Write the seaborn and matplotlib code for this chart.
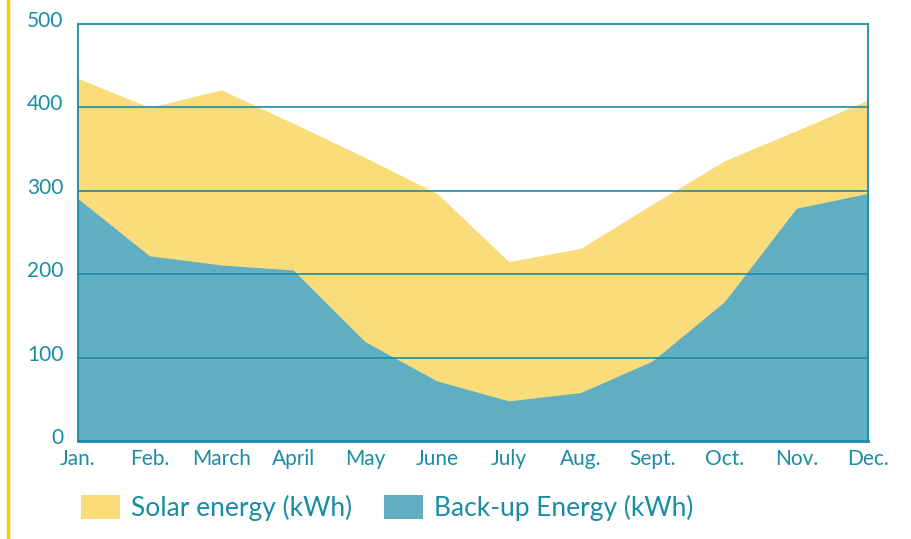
import matplotlib
matplotlib.use("Agg")
import matplotlib.pyplot as plt
import matplotlib.transforms as mtransforms
from matplotlib.lines import Line2D
from matplotlib.patches import Patch
import pandas as pd
import seaborn as sns

# Monthly energy data
months = ['Jan.', 'Feb.', 'March', 'April', 'May', 'June',
          'July', 'Aug.', 'Sept.', 'Oct.', 'Nov.', 'Dec.']
solar_kwh = [435, 400, 421, 381, 340, 297, 215, 231, 284, 336, 372, 409]
backup_kwh = [291, 222, 211, 205, 119, 72, 48, 58, 96, 167, 279, 297]
y_ticks = [0, 100, 200, 300, 400, 500]

TEAL = '#1A8CA5'
YELLOW_FILL = '#FADD7A'
BLUE_FILL = '#5FAEC2'
GOLD = '#F7CF00'

df = pd.DataFrame({'pos': range(len(months)), 'month': months,
                   'solar': solar_kwh, 'backup': backup_kwh})

sns.set_theme(style='white')
plt.rcParams['font.family'] = ['Lato', 'DejaVu Sans']

fig = plt.figure(figsize=(9.12, 5.39), dpi=100)
ax = fig.add_axes([0.085, 0.182, 0.867, 0.7735])

# Areas: solar underneath, back-up drawn over it
sns.lineplot(data=df, x='pos', y='solar', ax=ax, color=YELLOW_FILL, linewidth=0)
sns.lineplot(data=df, x='pos', y='backup', ax=ax, color=BLUE_FILL, linewidth=0)
ax.fill_between(df['pos'], 0, df['solar'], color=YELLOW_FILL, linewidth=0, zorder=1)
ax.fill_between(df['pos'], 0, df['backup'], color=BLUE_FILL, linewidth=0, zorder=2)

ax.set_xlim(0, len(months) - 1)
ax.set_ylim(0, 500)
ax.set_xticks(df['pos'])
ax.set_xticklabels(months)
ax.set_yticks(y_ticks)
ax.set_xlabel('')
ax.set_ylabel('')

# Gridlines on top of the areas
for v in y_ticks[1:-1]:
    ax.axhline(v, color=TEAL, linewidth=1.2, zorder=3)

for side, spine in ax.spines.items():
    spine.set_visible(True)
    spine.set_color(TEAL)
    spine.set_linewidth(1.3)
    spine.set_zorder(4)
ax.spines['bottom'].set_linewidth(2)

ax.tick_params(axis='both', length=0, colors=TEAL, labelsize=15)
ax.tick_params(axis='x', pad=6)
ax.tick_params(axis='y', pad=10)

# Nudge the y labels a little above their gridlines
shift = mtransforms.ScaledTranslation(0, 5 / 100, fig.dpi_scale_trans)
for lbl in ax.get_yticklabels():
    lbl.set_transform(lbl.get_transform() + shift)

handles = [Patch(facecolor=YELLOW_FILL, edgecolor='none', label='Solar energy (kWh)'),
           Patch(facecolor=BLUE_FILL, edgecolor='none', label='Back-up Energy (kWh)')]
leg = fig.legend(handles=handles, loc='lower left', bbox_to_anchor=(0.077, 0.014),
                 ncol=2, frameon=False, fontsize=19, handlelength=1.5,
                 handleheight=1.05, handletextpad=0.4, columnspacing=1.2,
                 borderaxespad=0)
for t in leg.get_texts():
    t.set_color(TEAL)

# Gold rule at the left edge
fig.add_artist(Line2D([8 / 912, 8 / 912], [0, 1], transform=fig.transFigure,
                      color=GOLD, linewidth=2.5))

fig.savefig('out.png', dpi=100)
